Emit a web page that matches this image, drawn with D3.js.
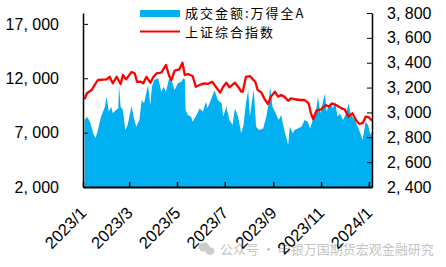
<!DOCTYPE html>
<html lang="zh">
<head>
<meta charset="UTF-8">
<title>成交金额与上证综合指数</title>
<script src="https://cdn.jsdelivr.net/npm/d3@7"></script>
<style>
  body { margin: 0; background: #fff; }
  svg text { font-family: "Liberation Sans", "Noto Sans CJK SC", sans-serif; fill: #000; }
  svg text.cjk { font-family: "Noto Sans CJK SC", sans-serif; }
</style>
<script>
// 成交金额:万得全A (亿元) - left axis
var turnoverDates = ["2023-01-03","2023-01-06","2023-01-10","2023-01-14","2023-01-17","2023-01-20","2023-01-24","2023-01-29","2023-01-31",
  "2023-02-03","2023-02-06","2023-02-08","2023-02-13","2023-02-15","2023-02-16","2023-02-18","2023-02-21","2023-02-24","2023-02-27",
  "2023-03-04","2023-03-07","2023-03-10","2023-03-14","2023-03-17","2023-03-20","2023-03-25","2023-03-28","2023-03-30",
  "2023-04-02","2023-04-07","2023-04-11","2023-04-14","2023-04-17","2023-04-21","2023-04-24","2023-04-28",
  "2023-05-02","2023-05-07","2023-05-09","2023-05-11","2023-05-12","2023-05-15","2023-05-19","2023-05-21","2023-05-26","2023-05-30",
  "2023-06-03","2023-06-07","2023-06-09","2023-06-14","2023-06-18","2023-06-22","2023-06-27","2023-06-29",
  "2023-07-03","2023-07-07","2023-07-11","2023-07-14","2023-07-18","2023-07-22","2023-07-25","2023-07-28","2023-07-31",
  "2023-08-02","2023-08-05","2023-08-07","2023-08-10","2023-08-14","2023-08-19","2023-08-23","2023-08-26","2023-08-28","2023-08-31",
  "2023-09-04","2023-09-08","2023-09-11","2023-09-15","2023-09-20","2023-09-22","2023-09-26","2023-09-28",
  "2023-10-07","2023-10-11","2023-10-15","2023-10-18","2023-10-22","2023-10-25","2023-10-28","2023-10-31",
  "2023-11-03","2023-11-06","2023-11-08","2023-11-12","2023-11-16","2023-11-19","2023-11-22","2023-11-25","2023-11-29",
  "2023-12-03","2023-12-06","2023-12-09","2023-12-14","2023-12-18","2023-12-21","2023-12-24","2023-12-28","2023-12-31",
  "2024-01-03","2024-01-05"];
var turnoverValues = [8160,8460,8000,6940,6480,7240,8460,9380,10300,
  8920,9380,8780,9150,9200,11380,9380,9080,7240,7700,
  9450,8320,7550,8160,10000,9700,11380,9540,11220,
  11840,12000,10760,11220,10760,12000,11840,10920,
  11540,11690,12000,11900,9080,8620,8460,8000,8620,9240,
  8920,9840,9240,10160,10920,10000,9700,8460,
  9380,8160,7700,9240,8460,6940,7700,9700,10920,
  8460,10000,10980,7550,7240,7390,8460,9700,11220,9380,
  8780,8160,8620,7240,5860,7550,6940,7240,
  7550,8160,8000,7390,8320,8780,10300,8780,
  9700,10620,8920,9700,9240,9840,8460,8780,8160,
  8780,9700,8620,8160,7550,6940,6320,8000,7700,
  6780,7100];

// 上证综合指数 - right axis
var indexDates = ["2023-01-03","2023-01-06","2023-01-12","2023-01-16","2023-01-20","2023-01-31",
  "2023-02-04","2023-02-08","2023-02-13","2023-02-18","2023-02-21","2023-02-25",
  "2023-03-04","2023-03-08","2023-03-11","2023-03-16","2023-03-19","2023-03-23","2023-03-28",
  "2023-04-01","2023-04-05","2023-04-11","2023-04-17","2023-04-21","2023-04-24","2023-04-28",
  "2023-05-04","2023-05-08","2023-05-11","2023-05-15","2023-05-21","2023-05-25","2023-05-30",
  "2023-06-05","2023-06-09","2023-06-15","2023-06-18","2023-06-25","2023-06-29",
  "2023-07-03","2023-07-07","2023-07-14","2023-07-18","2023-07-22","2023-07-24","2023-07-28",
  "2023-08-02","2023-08-06","2023-08-09","2023-08-12","2023-08-17","2023-08-21","2023-08-25","2023-08-29",
  "2023-09-03","2023-09-07","2023-09-11","2023-09-15","2023-09-20","2023-09-24","2023-09-28",
  "2023-10-05","2023-10-11","2023-10-16","2023-10-19","2023-10-22","2023-10-26",
  "2023-11-01","2023-11-07","2023-11-11","2023-11-15","2023-11-20","2023-11-27",
  "2023-12-01","2023-12-06","2023-12-11","2023-12-16","2023-12-20","2023-12-24","2023-12-28",
  "2024-01-01","2024-01-05"];
var indexValues = [3106,3154,3180,3221,3261,3266,
  3287,3234,3287,3229,3301,3266,
  3325,3315,3247,3247,3234,3287,3239,
  3287,3315,3320,3382,3293,3261,3336,
  3347,3400,3301,3309,3293,3207,3221,
  3234,3229,3247,3221,3159,3207,
  3239,3202,3239,3207,3167,3167,3287,
  3293,3266,3247,3180,3159,3106,3068,3127,
  3167,3127,3140,3127,3094,3114,3106,
  3100,3100,3073,2993,2945,3014,
  3025,3060,3046,3073,3060,3033,
  3025,2966,2993,2933,2907,2913,2966,
  2961,2933];

var xTicks = ["2023-01-01","2023-03-01","2023-05-01","2023-07-01","2023-09-01","2023-11-01","2024-01-01"];
var leftTicks = [2000, 7000, 12000, 17000];
var rightTicks = [2400, 2600, 2800, 3000, 3200, 3400, 3600, 3800];
var seriesNames = ["成交金额:万得全A", "上证综合指数"];

document.addEventListener("DOMContentLoaded", draw);

function fmt(v) {
    // 千分位，逗号后留空格
    return d3.format(",")(v).replace(",", ", ");
}

function draw() {
    var parse = d3.timeParse("%Y-%m-%d");
    var svg = d3.select("#chart");
    var plot = { left: 83, right: 372, top: 13, bottom: 187 };

    var x = d3.scaleTime()
        .domain([parse("2023-01-01"), parse("2024-01-05")])
        .range([plot.left, plot.right]);
    var yL = d3.scaleLinear().domain([2000, 18000]).range([plot.bottom, plot.top]);
    var yR = d3.scaleLinear().domain([2400, 3800]).range([plot.bottom, plot.top]);

    var turnover = turnoverDates.map(function (d, i) { return { date: parse(d), v: turnoverValues[i] }; });
    var index = indexDates.map(function (d, i) { return { date: parse(d), v: indexValues[i] }; });

    // 水印
    var wm = svg.append("g").attr("opacity", 0.5);
    wm.append("ellipse").attr("cx", 204).attr("cy", 247).attr("rx", 5.5).attr("ry", 4.5).attr("fill", "#9a9a9a");
    wm.append("ellipse").attr("cx", 210).attr("cy", 251).attr("rx", 4.5).attr("ry", 3.8).attr("fill", "#9a9a9a");
    wm.append("text").attr("class", "cjk").attr("x", 220).attr("y", 254)
        .style("font-size", "13px").style("fill", "#8a8a8a")
        .text("公众号 · 申银万国期货宏观金融研究");

    // 面积：成交金额
    var area = d3.area()
        .x(function (d) { return x(d.date); })
        .y0(yL(2000))
        .y1(function (d) { return yL(d.v); });
    svg.append("path").datum(turnover)
        .attr("d", area)
        .attr("fill", "#00b0f0");

    // 折线：上证综合指数
    var line = d3.line()
        .x(function (d) { return x(d.date); })
        .y(function (d) { return yR(d.v); });
    svg.append("path").datum(index)
        .attr("d", line)
        .attr("fill", "none")
        .attr("stroke", "#ff0000")
        .attr("stroke-width", 2.3)
        .attr("stroke-linejoin", "round");

    // 坐标轴
    var xAxis = d3.axisBottom(x)
        .tickValues(xTicks.map(parse))
        .tickFormat(d3.timeFormat("%Y/%-m"))
        .tickSizeInner(-5).tickSizeOuter(0);
    var gx = svg.append("g")
        .attr("transform", "translate(0," + plot.bottom + ")")
        .call(xAxis);
    gx.select(".domain").attr("stroke-width", 2);
    gx.selectAll("line").attr("stroke-width", 1.5);
    gx.selectAll("text")
        .style("font-size", "16.5px")
        .attr("text-anchor", "end")
        .attr("y", 0)
        .attr("dy", 0)
        .attr("transform", "translate(4,27) rotate(-45)");

    var gl = svg.append("g")
        .attr("transform", "translate(" + plot.left + ",0)")
        .call(d3.axisLeft(yL).tickValues(leftTicks).tickFormat(fmt)
            .tickSizeInner(-5).tickSizeOuter(0).tickPadding(24));
    gl.select(".domain").attr("stroke-width", 1.5);
    gl.selectAll("text").style("font-size", "16px");

    var gr = svg.append("g")
        .attr("transform", "translate(" + plot.right + ",0)")
        .call(d3.axisRight(yR).tickValues(rightTicks).tickFormat(fmt)
            .tickSizeInner(-5).tickSizeOuter(0).tickPadding(15));
    gr.select(".domain").attr("stroke-width", 1.5);
    gr.selectAll("text").style("font-size", "16px");

    // 图例
    var lg = svg.append("g");
    lg.append("rect").attr("x", 140).attr("y", 10).attr("width", 40).attr("height", 7).attr("fill", "#00b0f0");
    lg.append("line").attr("x1", 140).attr("x2", 180).attr("y1", 31.5).attr("y2", 31.5)
        .attr("stroke", "#ff0000").attr("stroke-width", 2);
    lg.selectAll("text.lg").data(seriesNames).enter().append("text")
        .attr("class", "lg cjk")
        .attr("x", 185)
        .attr("y", function (d, i) { return 18 + i * 19; })
        .style("font-size", "13px")
        .style("letter-spacing", "2px")
        .text(function (d) { return d; });
}
</script>
</head>
<body>
<svg id="chart" width="446" height="267"></svg>
</body>
</html>
